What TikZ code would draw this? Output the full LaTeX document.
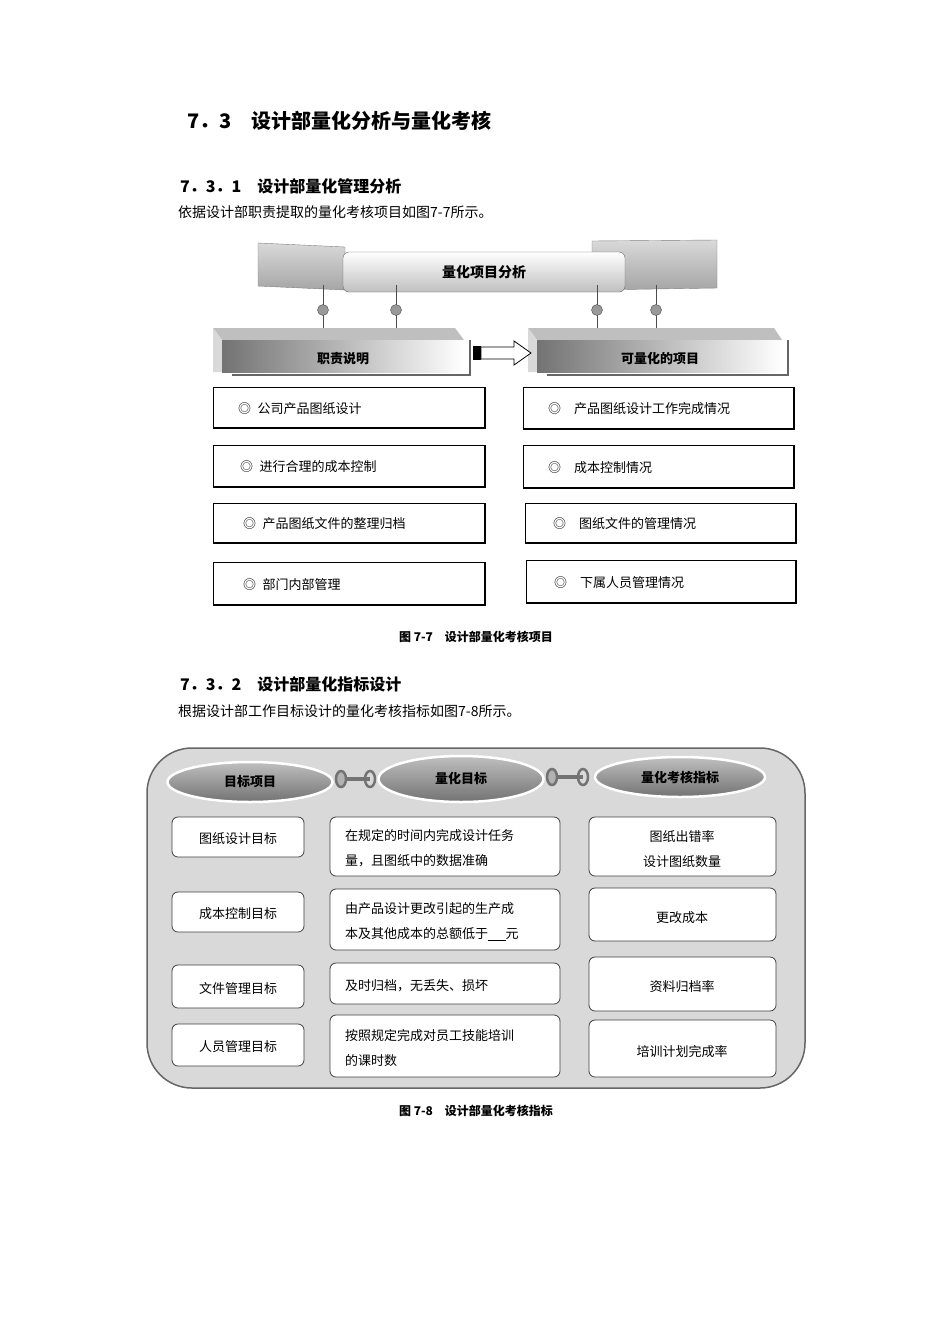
\documentclass[tikz,border=0pt]{standalone}
\usepackage{fontspec}
\setmainfont{Liberation Serif}
\newfontfamily\cjk{Noto Sans CJK SC}
\usetikzlibrary{shapes.geometric,arrows.meta}
\begin{document}
\begin{tikzpicture}[x=1pt,y=-1pt,
 txt/.style={font=\cjk\fontsize{13}{16}\selectfont,inner sep=0pt},
 rbox/.style={draw=black!75,fill=white,rounded corners=6pt,line width=0.8pt},
 figcap/.style={font=\cjk\bfseries\fontsize{12}{14}\selectfont,inner sep=0pt},
 oval/.style={ellipse,draw=white,line width=2.5pt,inner sep=0pt,
   top color=black!25,bottom color=black!55,font=\cjk\bfseries\fontsize{13}{15}\selectfont}]
\useasboundingbox (0,0) rectangle (950,1344);
\fill[white] (0,0) rectangle (950,1344);
% headings
\node[anchor=west,font=\cjk\bfseries\fontsize{20}{24}\selectfont,inner sep=0pt] (h1) at (187,121) {7．3\quad 设计部量化分析与量化考核};
\node[anchor=west,font=\cjk\bfseries\fontsize{16}{20}\selectfont,inner sep=0pt] (h2) at (180,186) {7．3．1\quad 设计部量化管理分析};
\node[anchor=west,txt,font=\cjk\fontsize{14}{17}\selectfont] (p1) at (178,212) {依据设计部职责提取的量化考核项目如图7-7所示。};
% banner
\shade[top color=black!15,bottom color=black!35,draw=black!50] (258,243) -- (345,247) -- (345,290) -- (258,286) -- cycle;
\shade[top color=black!15,bottom color=black!35,draw=black!50] (592,241) -- (717,240) -- (717,288) -- (592,290) -- cycle;
\node[draw=black!60,top color=white,bottom color=black!25,minimum width=282,minimum height=40,rounded corners=6pt,
  font=\cjk\bfseries\fontsize{14}{16}\selectfont] (ban) at (484,272) {量化项目分析};
% 3D boxes
\fill[black!25] (213,328) -- (455,328) -- (464,340) -- (222,340) -- cycle;
\fill[black!15] (213,328) -- (222,340) -- (222,372) -- (213,372) -- cycle;
\shade[left color=black!55,right color=white] (222,340) rectangle (464,372);
\draw[black!60,line width=2pt] (232,375) -- (470,375) -- (470,340);
\node[font=\cjk\bfseries\fontsize{13}{15}\selectfont] (b1) at (343,359) {职责说明};
\fill[black!25] (528,328) -- (774,328) -- (782,340) -- (537,340) -- cycle;
\fill[black!15] (528,328) -- (537,340) -- (537,372) -- (528,372) -- cycle;
\shade[left color=black!55,right color=white] (537,340) rectangle (782,372);
\draw[black!60,line width=2pt] (547,375) -- (788,375) -- (788,340);
\node[font=\cjk\bfseries\fontsize{13}{15}\selectfont] (b2) at (660,359) {可量化的项目};
% arrow
\fill[black] (473,346) rectangle (481,360);
\draw[fill=white,line width=0.8pt] (481,347) -- (514,347) -- (514,341) -- (531,353) -- (514,365) -- (514,359) -- (481,359) -- cycle;
% connectors
\foreach \x in {323,396,597,656}{
  \draw[black!70] (\x,285) -- (\x,328);
  \draw[fill=black!40,draw=black!70] (\x,310) circle (5.5);
}
% item boxes left
\foreach \y/\yy/\lab/\xo [count=\i] in {387/428/公司产品图纸设计/238,445/487/进行合理的成本控制/240,503/543/产品图纸文件的整理归档/243,562/605/部门内部管理/243}{
  \draw[line width=0.8pt] (213,\yy) -- (213,\y) -- (485,\y);
  \draw[line width=2pt] (485,\y) -- (485,\yy) -- (213,\yy);
  \node[txt,anchor=west] (l\i) at (\xo,{(\y+\yy)/2+1}) {◎\enspace \lab};
}
% item boxes right
\foreach \y/\yy/\x/\xx/\lab/\xo [count=\i] in {387/429/523/794/产品图纸设计工作完成情况/548,445/488/523/794/成本控制情况/548,503/543/525/796/图纸文件的管理情况/553,560/603/526/796/下属人员管理情况/554}{
  \draw[line width=0.8pt] (\x,\yy) -- (\x,\y) -- (\xx,\y);
  \draw[line width=2pt] (\xx,\y) -- (\xx,\yy) -- (\x,\yy);
  \node[txt,anchor=west] (r\i) at (\xo,{(\y+\yy)/2+1}) {◎\quad \lab};
}
\node[figcap] (c1) at (476,637) {图 7-7\quad 设计部量化考核项目};
% section 7.3.2
\node[anchor=west,font=\cjk\bfseries\fontsize{16}{20}\selectfont,inner sep=0pt] (h3) at (180,684) {7．3．2\quad 设计部量化指标设计};
\node[anchor=west,txt,font=\cjk\fontsize{14}{17}\selectfont] (p2) at (178,711) {根据设计部工作目标设计的量化考核指标如图7-8所示。};
% container
\draw[draw=black!60,fill=black!15,line width=1.5pt,rounded corners=45pt] (147,748) rectangle (805,1088);
% links
\draw[black!55,line width=4pt] (341,779) -- (370,779);
\draw[black!55,line width=4pt] (552,777) -- (583,777);
\draw[black!55,line width=2.5pt,fill=black!30] (341,779) ellipse (5 and 8);
\draw[black!55,line width=2.5pt] (370,779) ellipse (5 and 8);
\draw[black!55,line width=2.5pt,fill=black!30] (552,777) ellipse (5 and 8);
\draw[black!55,line width=2.5pt] (583,777) ellipse (5 and 8);
% ovals
\node[oval,minimum width=165,minimum height=40] (o1) at (250,782) {目标项目};
\node[oval,minimum width=165,minimum height=46] (o2) at (461,779) {量化目标};
\node[oval,minimum width=170,minimum height=40] (o3) at (680,777) {量化考核指标};
% left column
\foreach \y/\yy/\lab [count=\i] in {817/857/图纸设计目标,892/932/成本控制目标,965/1008/文件管理目标,1024/1066/人员管理目标}{
  \draw[rbox] (172,\y) rectangle (304,\yy);
  \node[txt] (g\i) at (238,{(\y+\yy)/2+2}) {\lab};
}
% middle column
\foreach \y/\yy/\lab [count=\i] in {817/876/{在规定的时间内完成设计任务\\量，且图纸中的数据准确},889/950/{由产品设计更改引起的生产成\\本及其他成本的总额低于\underline{\ \ \ \ \ \ }元},963/1004/{及时归档，无丢失、损坏},1015/1077/{按照规定完成对员工技能培训\\的课时数}}{
  \draw[rbox] (330,\y) rectangle (560,\yy);
  \node[txt,anchor=west,align=left,font=\cjk\fontsize{13}{25}\selectfont] (m\i) at (345,{(\y+\yy)/2+2}) {\lab};
}
% right column
\foreach \y/\yy/\lab [count=\i] in {817/876/{图纸出错率\\设计图纸数量},888/941/更改成本,957/1011/资料归档率,1020/1077/培训计划完成率}{
  \draw[rbox] (589,\y) rectangle (776,\yy);
  \node[txt,align=center,font=\cjk\fontsize{13}{25}\selectfont] (k\i) at (682,{(\y+\yy)/2+3}) {\lab};
}
\node[figcap] (c2) at (476,1111) {图 7-8\quad 设计部量化考核指标};
\end{tikzpicture}
\end{document}
